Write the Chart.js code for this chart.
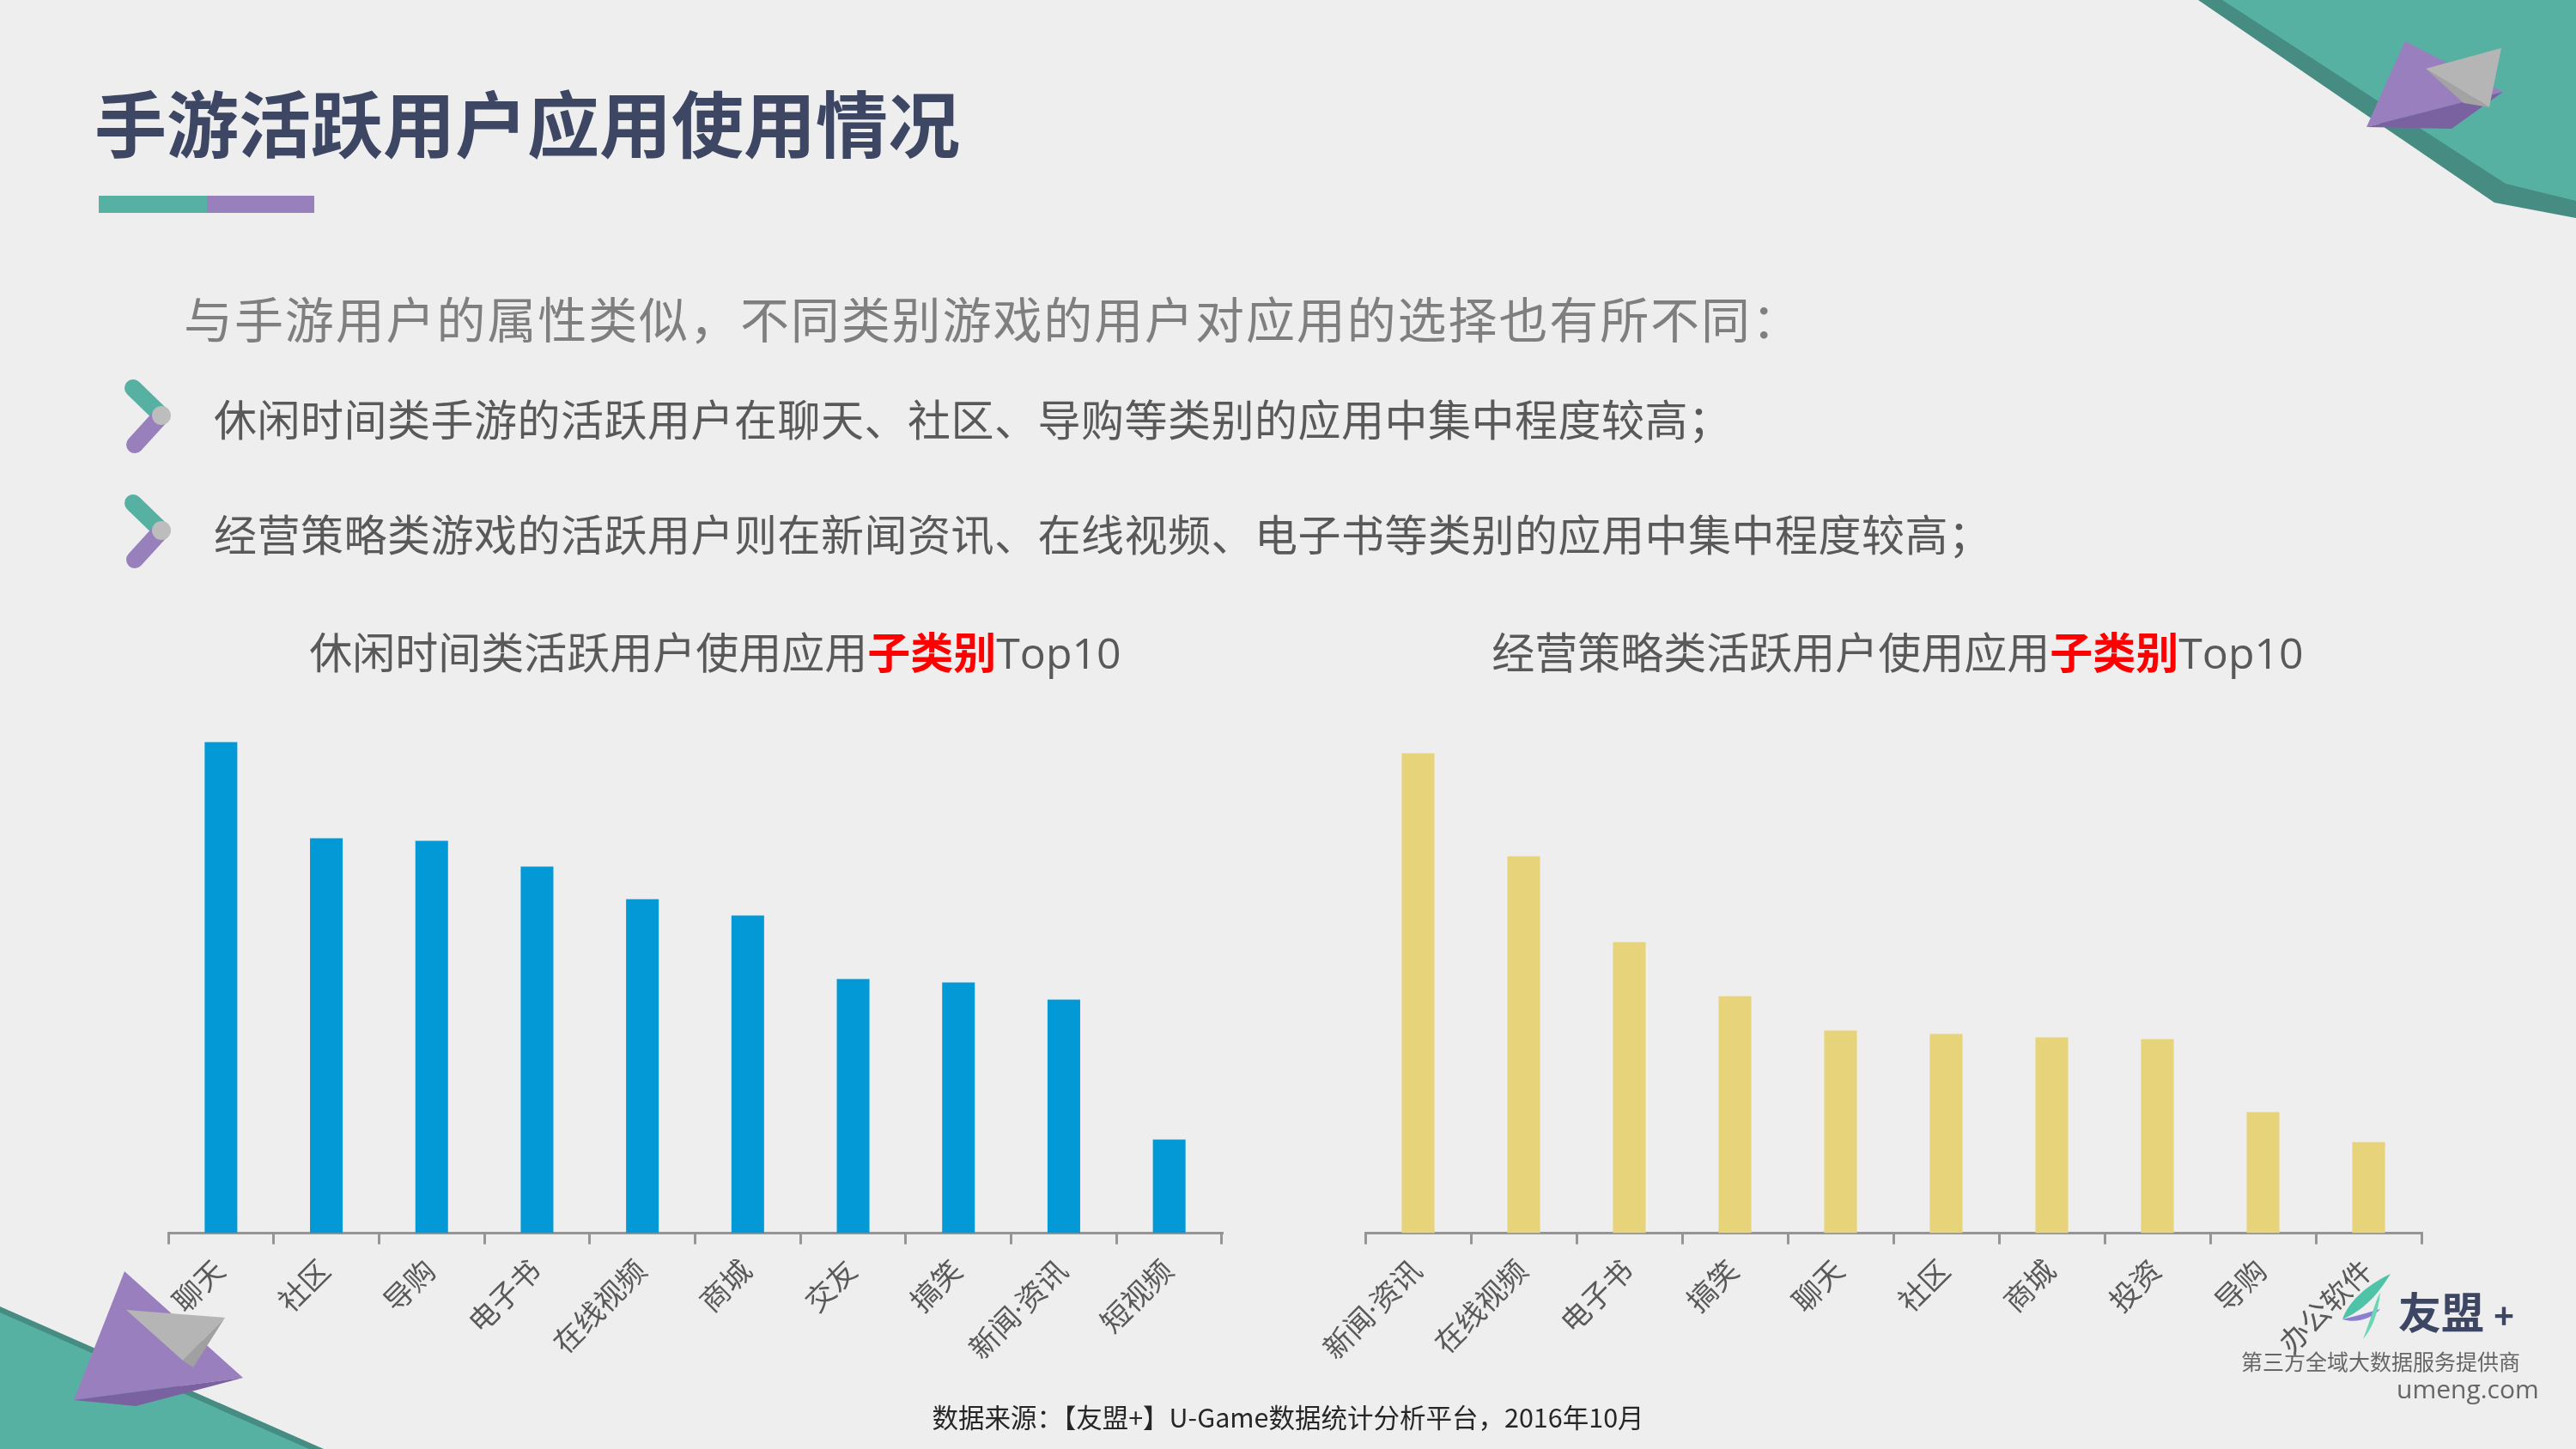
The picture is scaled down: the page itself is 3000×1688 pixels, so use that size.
<!DOCTYPE html>
<html><head><meta charset="utf-8">
<script src="https://cdn.jsdelivr.net/npm/chart.js@4.4.0/dist/chart.umd.min.js"></script>
<style>
html,body{margin:0;padding:0;}
body{width:3000px;height:1688px;background:#eeeeee;position:relative;overflow:hidden;font-family:'Noto Sans CJK SC','Noto Sans',sans-serif;}
.abs{position:absolute;white-space:nowrap;line-height:1;}
#deco{position:absolute;left:0;top:0;}
#title{left:110px;top:99px;font-size:84px;font-weight:700;color:#3d4663;}
#intro{left:214px;top:341px;font-size:57px;color:#7f7f7f;letter-spacing:1.9px;}
.bullet{left:249px;font-size:50px;color:#595959;letter-spacing:0.5px;}
.ctitle{font-size:50px;color:#595959;transform:translateX(-50%);}
.ctitle b{color:#ff0000;}
.ctitle span.lat{font-family:'Open Sans','Noto Sans',sans-serif;}
#source{left:1500px;top:1635px;font-size:30.5px;color:#262626;transform:translateX(-50%);}
canvas{position:absolute;}
#logo1{left:2793px;top:1501px;font-size:50px;font-weight:700;color:#3d4663;}
#logo2{left:2610px;top:1573px;font-size:25px;color:#666;}
#logo3{left:2791px;top:1603px;font-size:30px;color:#666;font-family:'Open Sans','Noto Sans',sans-serif;}
</style></head>
<body>
<svg id="deco" width="3000" height="1688" viewBox="0 0 3000 1688">
  <polygon points="2560,0 3000,0 3000,254 2905,236" fill="#468c82"/>
  <polygon points="2588,0 3000,0 3000,234 2918,214" fill="#56b1a3"/>
  <polygon points="2801,48 2756,148 2915,107" fill="#9a7fbf"/>
  <polygon points="2756,148 2915,107 2855,150" fill="#7a62a0"/>
  <polygon points="2825,80 2913,56 2899,125" fill="#b5b5b5"/>
  <polygon points="2825,80 2899,125 2869,120" fill="#a3a3a3"/>
  <polygon points="0,1522 377,1688 0,1688" fill="#468c82"/>
  <polygon points="0,1529 360,1688 0,1688" fill="#56b1a3"/>
  <polygon points="145,1481 86,1631 283,1605" fill="#9a7fbf"/>
  <polygon points="86,1631 283,1605 158,1638" fill="#7a62a0"/>
  <polygon points="147,1526 262,1535 213,1585" fill="#b5b5b5"/>
  <polygon points="213,1585 262,1535 225,1593" fill="#a0a0a0"/>
  <rect x="115" y="228" width="126" height="20" fill="#56b1a3"/>
  <rect x="241" y="228" width="125" height="20" fill="#9880bd"/>
  <g stroke-linecap="round" stroke-width="20" fill="none">
    <line x1="155" y1="452" x2="188" y2="484" stroke="#56b1a3"/>
    <line x1="188" y1="484" x2="157" y2="518" stroke="#9880bd"/>
    <line x1="155" y1="586" x2="188" y2="618" stroke="#56b1a3"/>
    <line x1="188" y1="618" x2="157" y2="652" stroke="#9880bd"/>
  </g>
  <circle cx="188" cy="484" r="11" fill="#bdbdbd"/>
  <circle cx="188" cy="618" r="11" fill="#bdbdbd"/>
  <path d="M2784,1484 C2760,1495 2735,1515 2728,1537 C2748,1528 2765,1515 2784,1484 Z" fill="#4fc3a8"/>
  <path d="M2728,1537 C2745,1542 2762,1536 2772,1525 C2755,1530 2740,1534 2728,1537 Z" fill="#8d7fd0"/>
  <path d="M2772,1505 C2770,1525 2765,1545 2752,1560 C2760,1540 2764,1522 2772,1505 Z" fill="#6ad6b4"/>
</svg>

<div id="title" class="abs">手游活跃用户应用使用情况</div>
<div id="intro" class="abs">与手游用户的属性类似，不同类别游戏的用户对应用的选择也有所不同：</div>
<div class="abs bullet" style="top:461px">休闲时间类手游的活跃用户在聊天、社区、导购等类别的应用中集中程度较高；</div>
<div class="abs bullet" style="top:595px">经营策略类游戏的活跃用户则在新闻资讯、在线视频、电子书等类别的应用中集中程度较高；</div>
<div class="abs ctitle" style="left:833px;top:732px">休闲时间类活跃用户使用应用<b>子类别</b><span class="lat">Top10</span></div>
<div class="abs ctitle" style="left:2210px;top:732px">经营策略类活跃用户使用应用<b>子类别</b><span class="lat">Top10</span></div>

<canvas id="c1" width="1400" height="840" style="left:100px;top:800px;width:1400px;height:840px"></canvas>
<canvas id="c2" width="1400" height="840" style="left:1494px;top:800px;width:1400px;height:840px"></canvas>

<div id="logo1" class="abs">友盟 <span style="font-size:40px">+</span></div>
<div id="logo2" class="abs">第三方全域大数据服务提供商</div>
<div id="logo3" class="abs">umeng.com</div>
<div id="source" class="abs">数据来源：【友盟+】U-Game数据统计分析平台，2016年10月</div>

<script>
const leftCategories = ['聊天','社区','导购','电子书','在线视频','商城','交友','搞笑','新闻·资讯','短视频'];
const leftValues = [57.2,46.0,45.7,42.7,38.9,37.0,29.6,29.2,27.2,10.9];
const rightCategories = ['新闻·资讯','在线视频','电子书','搞笑','聊天','社区','商城','投资','导购','办公软件'];
const rightValues = [55.9,43.9,33.9,27.6,23.6,23.2,22.8,22.6,14.1,10.6];
const yMax = 60;

function makeChart(id, cats, vals, color, padRight){
  new Chart(document.getElementById(id), {
    type:'bar',
    data:{labels:cats, datasets:[{data:vals, backgroundColor:color, borderWidth:0, categoryPercentage:0.8, barPercentage:0.3875}]},
    options:{
      responsive:false, animation:false, devicePixelRatio:1,
      layout:{padding:{left:96,right:padRight,top:36.5,bottom:0}},
      plugins:{legend:{display:false},tooltip:{enabled:false},title:{display:false}},
      scales:{
        x:{
          grid:{display:true,drawOnChartArea:false,drawTicks:true,tickLength:13,color:'#959595',lineWidth:3,offset:true},
          border:{display:true,color:'#959595',width:3},
          ticks:{autoSkip:false,maxRotation:45,minRotation:45,padding:12,color:'#595959',
                 font:{family:"'Noto Sans','Noto Sans CJK SC',sans-serif",size:34}},
          afterFit:(s)=>{s.paddingLeft=0;s.paddingRight=0;s.height=203.5;}
        },
        y:{display:false,min:0,max:yMax}
      }
    }
  });
}
makeChart('c1', leftCategories, leftValues, '#0399d6', 77);
makeChart('c2', rightCategories, rightValues, '#e7d47a', 74);
</script>
</body></html>
